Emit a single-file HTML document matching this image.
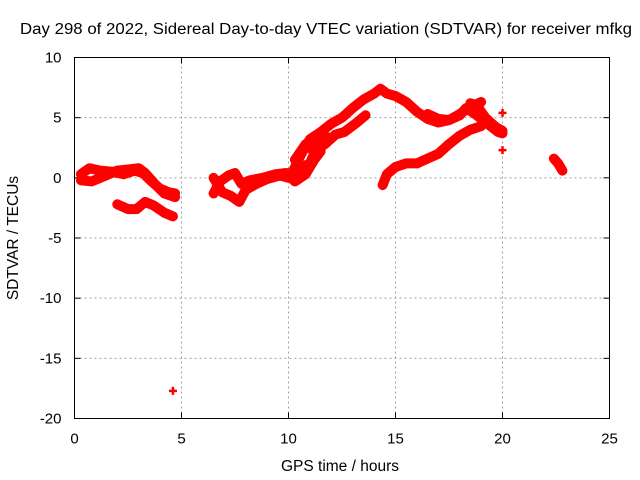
<!DOCTYPE html>
<html><head><meta charset="utf-8"><style>
body{margin:0;background:#fff;}
svg{display:block;font-family:"Liberation Sans",sans-serif;}
</style></head><body>
<svg id="chart" width="640" height="480" xmlns="http://www.w3.org/2000/svg">
<text x="326" y="34" font-size="15.5" text-anchor="middle" textLength="612" lengthAdjust="spacingAndGlyphs">Day 298 of 2022, Sidereal Day-to-day VTEC variation (SDTVAR) for receiver mfkg</text>
<text x="340" y="471" font-size="15.5" text-anchor="middle">GPS time / hours</text>
<text transform="translate(18,238) rotate(-90)" font-size="15.5" text-anchor="middle">SDTVAR / TECUs</text>
<g id="grid"></g><g id="ticks"></g><g id="marks"></g>
<rect x="74.5" y="57.5" width="535" height="361" fill="none" stroke="#000"/>
</svg>
<script>
const xTicks=[0,5,10,15,20,25];
const yTicks=[10,5,0,-5,-10,-15,-20];
const trackA1=[[0.3,0.3],[0.7,0.8],[1.2,0.6],[1.8,0.5],[2.3,0.3],[2.8,0.6],[3.2,0.4],[3.6,-0.3],[4.0,-0.9],[4.4,-1.2],[4.7,-1.3]];
const trackA2=[[0.3,-0.2],[0.8,-0.3],[1.2,0],[1.6,0.3],[2.0,0.6],[2.5,0.7],[3.0,0.8],[3.3,0.4],[3.8,-0.6],[4.2,-1.3],[4.7,-1.6]];
const trackA3=[[2.0,-2.2],[2.5,-2.6],[2.9,-2.6],[3.3,-2.0],[3.7,-2.3],[4.2,-2.9],[4.6,-3.2]];
const trackB1=[[6.5,-1.3],[6.8,-0.3],[7.2,0.2],[7.5,0.4],[7.8,-0.5],[8.2,-0.2],[8.8,0],[9.4,0.3],[9.9,0.4],[10.3,-0.3],[10.8,0.3],[11.2,1.5],[11.5,2.2]];
const trackB2=[[6.5,0],[6.9,-1.2],[7.3,-1.5],[7.7,-2.0],[8.0,-1.0],[8.5,-0.5],[9.0,-0.1],[9.6,0.2],[10.0,0.0]];
const trackC1=[[10.2,0.5],[10.6,2.0],[11.0,3.2],[11.5,3.8],[12.0,4.5],[12.5,5.0],[13.0,5.8],[13.5,6.5],[14.0,7.0],[14.3,7.4],[14.6,7.0],[15.0,6.8],[15.5,6.3],[16.0,5.5],[16.5,4.9],[17.0,4.6],[17.5,4.8],[18.0,5.3],[18.5,5.9],[19.0,6.3]];
const trackC2=[[10.3,1.5],[10.8,2.8],[11.2,2.2],[11.7,2.8],[12.2,3.6],[12.6,3.8],[13.2,4.6],[13.6,5.2]];
const trackC3=[[10.0,0.3],[10.5,0.8],[11.0,1.2],[11.4,2.8],[11.8,3.4]];
const trackD1=[[16.5,5.3],[17.0,4.9],[17.5,4.8],[18.0,5.2],[18.3,5.8],[18.8,5.2],[19.3,4.5],[19.8,3.8],[20.0,3.7]];
const trackD2=[[18.5,6.2],[18.8,6.0],[19.2,5.0],[19.7,4.2],[20.0,3.9]];
const trackE=[[14.4,-0.6],[14.6,0.3],[15.0,0.9],[15.5,1.2],[16.0,1.2],[16.5,1.6],[17.0,2.0],[17.5,2.8],[18.0,3.5],[18.5,4.0],[19.0,4.3]];
const trackF=[[22.4,1.6],[22.6,1.2],[22.8,0.6]];
const singles=[[4.6,-17.7],[20.0,5.4],[20.0,2.3]];
const tracks=[trackA1,trackA2,trackA3,trackB1,trackB2,trackC1,trackC2,trackC3,trackD1,trackD2,trackE,trackF];
const NS="http://www.w3.org/2000/svg";
const x0=74.5,x1=609.5,y0=418.5,y1=57.5;
function sx(t){return x0+(t-0)/25*(x1-x0);}
function sy(v){return y0-(v+20)/30*(y0-y1);}
function mk(tag,attrs,parent){const e=document.createElementNS(NS,tag);for(const k in attrs)e.setAttribute(k,attrs[k]);parent.appendChild(e);return e;}
const grid=document.getElementById('grid'),ticks=document.getElementById('ticks'),marks=document.getElementById('marks');
xTicks.forEach(t=>{const x=sx(t);
 if(t>0&&t<25){const g=mk('line',{x1:x,x2:x,y1:y0,y2:y1,stroke:'#a0a0a0','stroke-dasharray':'2,3'},grid);
 
 }
 const l=mk('text',{x:x,y:y0+25,'font-size':15,'text-anchor':'middle'},ticks);l.textContent=t;
 
 
 mk('line',{x1:x,x2:x,y1:y0,y2:y0-6,stroke:'#000'},ticks);mk('line',{x1:x,x2:x,y1:y1,y2:y1+6,stroke:'#000'},ticks);});
yTicks.forEach(v=>{const y=sy(v);
 if(v>-20&&v<10){const g=mk('line',{x1:x0,x2:x1,y1:y,y2:y,stroke:'#a0a0a0','stroke-dasharray':'2,3'},grid);
 
 }
 const l=mk('text',{x:x0-13,y:y+5,'font-size':15,'text-anchor':'end'},ticks);l.textContent=v;
 
 
 mk('line',{x1:x0,x2:x0+6,y1:y,y2:y,stroke:'#000'},ticks);mk('line',{x1:x1,x2:x1-6,y1:y,y2:y,stroke:'#000'},ticks);});
tracks.forEach(tr=>{const p=mk('polyline',{points:tr.map(d=>sx(d[0])+','+sy(d[1])).join(' '),fill:'none',stroke:'#f00','stroke-width':10,'stroke-linejoin':'round','stroke-linecap':'round'},marks);
 
 });
singles.forEach(d=>{const x=sx(d[0]),y=sy(d[1]);
 const p=mk('path',{d:`M${x-4},${y}H${x+4}M${x},${y-4}V${y+4}`,stroke:'#f00','stroke-width':2.5},marks);
 
 });
</script>
</body></html>
